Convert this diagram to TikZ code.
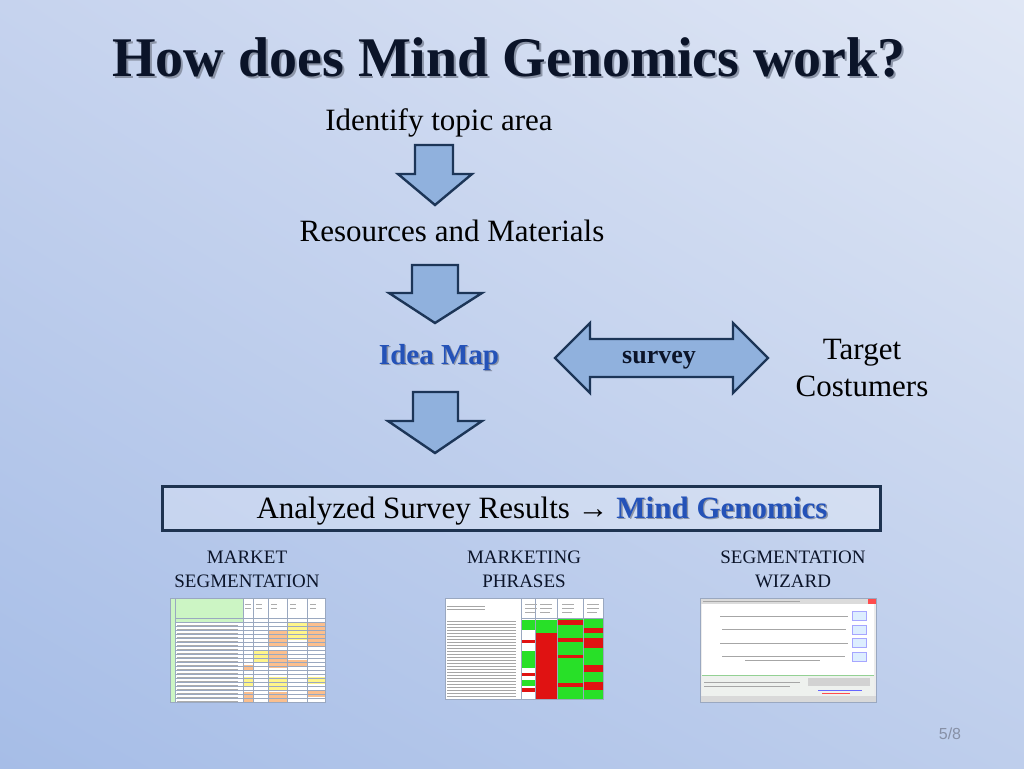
\documentclass[tikz,border=0pt]{standalone}
\usepackage{fontspec}
\usetikzlibrary{shadings}
\setmainfont{Liberation Serif}
\newfontfamily\sansf{Liberation Sans}
\definecolor{bgUL}{HTML}{C6D3EE}
\definecolor{bgUR}{HTML}{E0E7F5}
\definecolor{bgLL}{HTML}{A6BDE7}
\definecolor{bgLR}{HTML}{BECEEC}
\definecolor{titlec}{HTML}{0B1429}
\definecolor{shadowc}{HTML}{8C95A8}
\definecolor{bluetxt}{HTML}{2452B8}
\definecolor{arrowfill}{HTML}{90B1DD}
\definecolor{arrowedge}{HTML}{1C3557}
\definecolor{boxedge}{HTML}{1E3350}
\definecolor{hdrgreen}{HTML}{CCF5C4}
\definecolor{cellyellow}{HTML}{FFF58A}
\definecolor{cellorange}{HTML}{FBBF8E}
\definecolor{gridc}{HTML}{9AA8C0}
\definecolor{limeg}{HTML}{28E028}
\definecolor{brightr}{HTML}{E01212}
\definecolor{paleblue}{HTML}{DDEEFF}
\definecolor{pagec}{HTML}{8790A6}
\newcommand\shtext[2][1.6pt]{\makebox[0pt][l]{\raisebox{-#1}{\hspace{#1}\textcolor{shadowc}{#2}}}#2}
\begin{document}
\begin{tikzpicture}[x=1pt,y=-1pt,
  txt/.style={anchor=base,inner sep=0pt,font=\fontsize{31}{37}\selectfont,text=black},
  lbl/.style={anchor=base,inner sep=0pt,font=\fontsize{19}{22}\selectfont,text=titlec},
  blockarrow/.style={draw=arrowedge,line width=2.4pt,fill=arrowfill,line join=miter},
  txtline/.style={draw=gray!70,line width=0.9pt},
  thingrid/.style={draw=gridc,line width=0.3pt}]
\useasboundingbox (0,0) rectangle (1024,768);
\shade[upper left=bgUL,upper right=bgUR,lower left=bgLL,lower right=bgLR] (0,0) rectangle (1024,768);

% title
\node[anchor=base,inner sep=0pt,font=\fontsize{56}{60}\selectfont\bfseries,text=titlec] (title) at (509,77) {\shtext[1.8pt]{How does Mind Genomics work?}};

% flow texts
\node[txt] (identify) at (439,130) {Identify topic area};
\node[txt] (resources) at (452,241) {Resources and Materials};
\node[txt,font=\fontsize{29}{35}\selectfont\bfseries,text=bluetxt] (ideamap) at (439,364) {\shtext[1.4pt]{Idea Map}};
\node[txt] (target1) at (862,359) {Target};
\node[txt] (target2) at (862,396) {Costumers};

% block arrows
\draw[blockarrow] (415,145) -- (453,145) -- (453,174) -- (472,174) -- (435,205) -- (398,174) -- (415,174) -- cycle;
\draw[blockarrow] (412,265) -- (458,265) -- (458,293) -- (482,293) -- (435,323) -- (389,293) -- (412,293) -- cycle;
\draw[blockarrow] (413,392) -- (458,392) -- (458,421) -- (482,421) -- (435,453) -- (388,421) -- (413,421) -- cycle;

% survey double arrow
\draw[blockarrow] (555,358) -- (590,323) -- (590,339) -- (733,339) -- (733,323) -- (768,358) -- (733,393) -- (733,377) -- (590,377) -- (590,393) -- cycle;
\node[txt,font=\fontsize{26}{30}\selectfont\bfseries,text=titlec] (survey) at (659,363) {survey};

% results box
\draw[draw=boxedge,line width=3pt,fill=white,fill opacity=0.25] (162,486) rectangle (880,530);
\node[txt] (results) at (542,518) {Analyzed Survey Results \char"2192{} \textcolor{bluetxt}{\bfseries\shtext[1.4pt]{Mind Genomics}}};

% labels
\node[lbl] (ms1) at (247,563) {MARKET};
\node[lbl] (ms2) at (247,587) {SEGMENTATION};
\node[lbl] (mp1) at (524,563) {MARKETING};
\node[lbl] (mp2) at (524,587) {PHRASES};
\node[lbl] (sw1) at (793,563) {SEGMENTATION};
\node[lbl] (sw2) at (793,587) {WIZARD};

% thumbnail 1: market segmentation table
\fill[white] (170,598) rectangle (325,702);
\fill[hdrgreen] (170,598) rectangle (243,622);
\fill[hdrgreen] (170,598) rectangle (175,702);
\fill[cellyellow] (287,622) rectangle (307,640);
\fill[cellorange] (307,622) rectangle (325,646);
\fill[cellorange] (268,630) rectangle (287,646);
\fill[cellyellow] (253,651) rectangle (268,663);
\fill[cellorange] (268,651) rectangle (287,668);
\fill[cellorange] (287,660) rectangle (307,666);
\fill[cellorange] (243,665) rectangle (253,670);
\fill[cellyellow] (243,677) rectangle (253,686);
\fill[cellyellow] (268,677) rectangle (287,690);
\fill[cellyellow] (307,677) rectangle (325,684);
\fill[cellorange] (243,692) rectangle (253,702);
\fill[cellorange] (268,692) rectangle (287,702);
\fill[cellorange] (307,690) rectangle (325,697);
\foreach \x in {175,243,253,268,287,307} \draw[thingrid] (\x,598) -- (\x,702);
\foreach \y in {618,622,...,702} \draw[thingrid] (175,\y) -- (325,\y);
\foreach \y in {625,629,...,701} \draw[draw=gray!65,line width=0.7pt] (177,\y) -- (238,\y);
\foreach \x in {245,256,271,290,310} \draw[draw=gray!65,line width=0.7pt] (\x,604) -- (\x+6,604) (\x,608) -- (\x+6,608);
\draw[draw=gridc,line width=0.6pt] (170,598) rectangle (325,702);

% thumbnail 2: marketing phrases
\fill[white] (445,598) rectangle (603,699);
\foreach \y in {606,609} \draw[txtline,line width=0.7pt] (447,\y) -- (485,\y);
\foreach \y in {621,624,...,697} \draw[txtline,line width=0.7pt] (447,\y) -- (516,\y);
\fill[limeg] (522,620) rectangle (535,630);
\fill[brightr] (522,640) rectangle (535,643);
\fill[limeg] (522,651) rectangle (535,668);
\fill[brightr] (522,673) rectangle (535,676);
\fill[limeg] (522,680) rectangle (535,686);
\fill[brightr] (522,688) rectangle (535,692);
\fill[limeg] (535,620) rectangle (557,633);
\fill[brightr] (535,633) rectangle (557,699);
\fill[limeg] (557,618) rectangle (583,699);
\fill[brightr] (557,620) rectangle (583,625);
\fill[brightr] (557,638) rectangle (583,642);
\fill[brightr] (557,655) rectangle (583,658);
\fill[brightr] (557,683) rectangle (583,687);
\fill[limeg] (583,618) rectangle (603,699);
\fill[brightr] (583,628) rectangle (603,633);
\fill[brightr] (583,638) rectangle (603,648);
\fill[brightr] (583,665) rectangle (603,672);
\fill[brightr] (583,682) rectangle (603,690);
\foreach \x in {521,535,557,583} \draw[thingrid] (\x,598) -- (\x,699);
\draw[thingrid] (521,618) -- (603,618);
\foreach \x in {525,540,562,587} \draw[draw=gray!65,line width=0.7pt] (\x,604) -- (\x+12,604) (\x,608) -- (\x+12,608) (\x,612) -- (\x+10,612);
\draw[draw=gridc,line width=0.6pt] (445,598) rectangle (603,699);

% thumbnail 3: segmentation wizard
\fill[gray!15] (700,598) rectangle (876,702);
\fill[gray!28] (700,598) rectangle (876,604);
\draw[draw=gray!70,line width=0.8pt] (703,601) -- (800,601);
\fill[red!70] (868,598) rectangle (876,604);
\fill[white] (702,604) rectangle (874,675);
\draw[txtline] (720,616) -- (848,616);
\draw[txtline] (722,629) -- (846,629);
\draw[txtline] (720,643) -- (848,643);
\draw[txtline] (722,656) -- (845,656);
\draw[txtline] (745,660) -- (820,660);
\foreach \y in {611,625,638,652} \draw[draw=blue!35,fill=paleblue,line width=0.5pt] (852,\y) rectangle (866,\y+9);
\fill[green!8!gray!12] (702,675) rectangle (874,696);
\draw[draw=green!40!gray!60,line width=0.6pt] (702,675) -- (874,675);
\draw[txtline,line width=0.7pt] (704,682) -- (800,682);
\draw[txtline,line width=0.7pt] (704,686) -- (790,686);
\fill[gray!35] (808,678) rectangle (870,686);
\draw[draw=blue!60,line width=0.7pt] (818,690) -- (862,690);
\draw[draw=red!70,line width=0.7pt] (822,693) -- (850,693);
\fill[gray!30] (700,696) rectangle (876,702);
\draw[draw=gridc,line width=0.6pt] (700,598) rectangle (876,702);

% page number
\node[anchor=base,inner sep=0pt,font=\sansf\fontsize{16}{18}\selectfont,text=pagec] (pagenum) at (950,739) {5/8};
\end{tikzpicture}
\end{document}
